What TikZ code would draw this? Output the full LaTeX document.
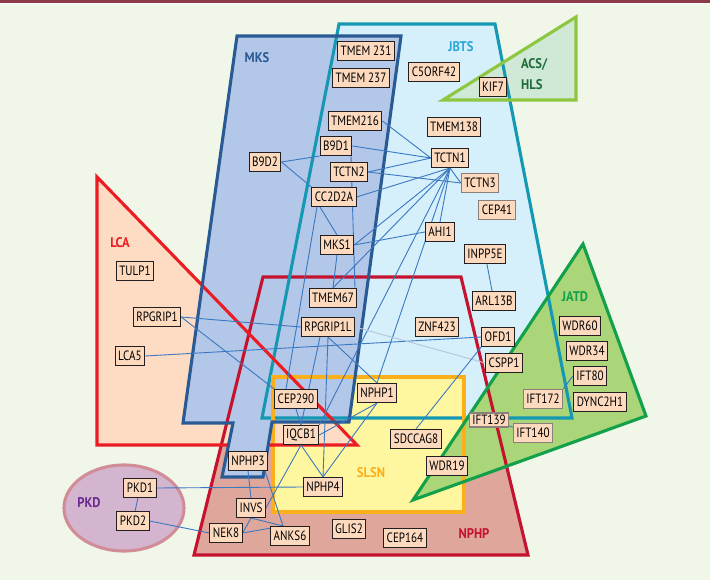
\documentclass[tikz,border=0pt]{standalone}
\usepackage{fontspec}
\newfontfamily\boxfont[FakeStretch=0.82]{PT Sans}
\newfontfamily\labfont[FakeStretch=0.9]{PT Sans}
\pgfdeclarelayer{regions}
\pgfdeclarelayer{links}
\pgfsetlayers{regions,links,main}
\definecolor{bgc}{HTML}{F0F7E9}
\definecolor{topbar}{HTML}{8C3A48}
\definecolor{nphpfill}{HTML}{DFA69C}
\definecolor{nphpline}{HTML}{C4122F}
\definecolor{jbtsfill}{HTML}{D5EFFB}
\definecolor{jbtsline}{HTML}{1599B3}
\definecolor{jbtstext}{HTML}{2EA6D6}
\definecolor{slsnfill}{HTML}{FFF6A0}
\definecolor{slsnline}{HTML}{FBB01B}
\definecolor{lcafill}{HTML}{FDDCC3}
\definecolor{lcaline}{HTML}{EC1C24}
\definecolor{mksfill}{HTML}{B3C7E8}
\definecolor{mksline}{HTML}{2A5A93}
\definecolor{jatdfill}{HTML}{AAD578}
\definecolor{jatdline}{HTML}{12A14A}
\definecolor{acsfill}{HTML}{CFE9D6}
\definecolor{acsline}{HTML}{8DC63F}
\definecolor{acstext}{HTML}{1E6B3A}
\definecolor{pkdfill}{HTML}{D4B5CF}
\definecolor{pkdline}{HTML}{D08C97}
\definecolor{pkdtext}{HTML}{6A2A90}
\definecolor{boxfill}{HTML}{FDDABE}
\definecolor{boxline}{HTML}{231F20}
\definecolor{boxgray}{HTML}{8A7F7A}
\definecolor{linkblue}{HTML}{3B78C2}
\definecolor{linkfaint}{HTML}{B5C6DA}
\begin{document}
\begin{tikzpicture}[x=1pt,y=-1pt,
  gene/.style={draw=boxline, fill=boxfill, line width=1.1pt, inner xsep=3pt, inner ysep=0pt,
    minimum height=19pt, text=black, font={\boxfont\fontsize{13.5}{14}\selectfont}},
  genegray/.style={gene, draw=boxgray},
  link/.style={draw=linkblue, line width=0.9pt},
  faintlink/.style={draw=linkfaint, line width=0.9pt},
  region/.style={line width=3.1pt, line join=miter},
  rlabel/.style={inner sep=0pt, font={\labfont\bfseries\fontsize{14}{16}\selectfont}}
]
\useasboundingbox (0,0) rectangle (710,580);
\begin{pgfonlayer}{regions}
\fill[bgc] (0,0) rectangle (710,580);
\fill[topbar] (0,0) rectangle (710,3);
\fill[white] (0,3) rectangle (710,4.5);
% fills
\fill[nphpfill] (263,277) -- (461,277) -- (528,555) -- (194,555) -- cycle;
\fill[jbtsfill] (339,24) -- (495,24) -- (572,418) -- (262,418) -- cycle;
\fill[slsnfill] (273,377) rectangle (464,512);
\fill[lcafill] (97,177) -- (357,445) -- (97,445) -- cycle;
\fill[mksfill] (237,36) -- (401,36) -- (349,422) -- (272,422) -- (263,477) -- (222,477) -- (233,423) -- (183,423) -- cycle;
\fill[jatdfill] (583,244) -- (646,416) -- (413,500) -- cycle;
\fill[acsfill] (576,17) -- (576,100) -- (443,100) -- cycle;
\fill[pkdfill] (124,508) ellipse [x radius=60, y radius=43];
% outlines
\draw[region, nphpline] (263,277) -- (461,277) -- (528,555) -- (194,555) -- cycle;
\draw[region, jbtsline] (339,24) -- (495,24) -- (572,418) -- (262,418) -- cycle;
\draw[region, slsnline] (273,377) rectangle (464,512);
\draw[region, lcaline] (97,177) -- (357,445) -- (97,445) -- cycle;
% the MKS tab lies over the bottom edge of LCA
\fill[mksfill] (273.5,421) -- (264.5,475.5) -- (223.8,475.5) -- (234.5,421) -- cycle;
\draw[region, mksline] (237,36) -- (401,36) -- (349,422) -- (272,422) -- (263,477) -- (222,477) -- (233,423) -- (183,423) -- cycle;
\draw[region, jatdline] (583,244) -- (646,416) -- (413,500) -- cycle;
\draw[region, acsline] (576,17) -- (576,100) -- (443,100) -- cycle;
\draw[region, pkdline] (124,508) ellipse [x radius=60, y radius=43];
\end{pgfonlayer}

% region labels
\node[rlabel, text=mksline] (lmks) at (257,58) {MKS};
\node[rlabel, text=jbtstext] (ljbts) at (461,47) {JBTS};
\node[rlabel, text=acstext, anchor=west] (lacs) at (521,64) {ACS/};
\node[rlabel, text=acstext, anchor=west] (lhls) at (521,85) {HLS};
\node[rlabel, text=lcaline] (llca) at (120,243) {LCA};
\node[rlabel, text=jatdline] (ljatd) at (575,297) {JATD};
\node[rlabel, text=slsnline] (lslsn) at (371,473) {SLSN};
\node[rlabel, text=nphpline] (lnphp) at (474,534) {NPHP};
\node[rlabel, text=pkdtext] (lpkd) at (89,503) {PKD};

% genes
\node[gene] (tmem231) at (366,51) {TMEM 231};
\node[gene] (tmem237) at (361,78) {TMEM 237};
\node[gene] (c5orf42) at (434,72) {C5ORF42};
\node[gene] (kif7) at (493,87) {KIF7};
\node[gene] (tmem216) at (355,121) {TMEM216};
\node[gene] (tmem138) at (454,127) {TMEM138};
\node[gene] (b9d1) at (336,146) {B9D1};
\node[gene] (b9d2) at (265,162) {B9D2};
\node[gene] (tctn2) at (349,172) {TCTN2};
\node[gene] (tctn1) at (450,158) {TCTN1};
\node[genegray] (tctn3) at (480,183) {TCTN3};
\node[gene] (cc2d2a) at (334,197) {CC2D2A};
\node[genegray] (cep41) at (497,210) {CEP41};
\node[gene] (ahi1) at (440,232) {AHI1};
\node[gene] (mks1) at (337,245) {MKS1};
\node[gene] (inpp5e) at (485,254) {INPP5E};
\node[gene] (tmem67) at (333,298) {TMEM67};
\node[gene] (arl13b) at (494,301) {ARL13B};
\node[gene] (rpgrip1l) at (328,327) {RPGRIP1L};
\node[gene] (znf423) at (437,327) {ZNF423};
\node[gene] (ofd1) at (498,337) {OFD1};
\node[gene] (cspp1) at (504,363) {CSPP1};
\node[gene] (nphp1) at (377,393) {NPHP1};
\node[gene] (tulp1) at (135,271) {TULP1};
\node[gene] (rpgrip1) at (157,317) {RPGRIP1};
\node[gene] (lca5) at (130,356) {LCA5};
\node[gene] (wdr60) at (580,326) {WDR60};
\node[gene] (wdr34) at (587,351) {WDR34};
\node[gene] (ift80) at (590,376) {IFT80};
\node[genegray] (ift172) at (543,399) {IFT172};
\node[gene] (dync2h1) at (600,402) {DYNC2H1};
\node[genegray, minimum height=14pt] (ift139) at (489,420) {IFT139};
\node[genegray] (ift140) at (533,433) {IFT140};
\node[gene] (cep290) at (296,399) {CEP290};
\node[gene] (iqcb1) at (301,435) {IQCB1};
\node[gene] (sdccag8) at (416,439) {SDCCAG8};
\node[gene] (wdr19) at (447,466) {WDR19};
\node[gene] (nphp4) at (323,487) {NPHP4};
\node[gene] (anks6) at (290,536) {ANKS6};
\node[gene] (glis2) at (349,529) {GLIS2};
\node[gene] (cep164) at (405,538) {CEP164};
\node[gene] (nphp3) at (248,461) {NPHP3};
\node[gene] (pkd1) at (140,488) {PKD1};
\node[gene] (pkd2) at (133,521) {PKD2};
\node[gene] (invs) at (251,508) {INVS};
\node[gene] (nek8) at (226,533) {NEK8};

% connectors, behind the boxes
\begin{pgfonlayer}{links}
\draw[link] (b9d2.east) -- (b9d1.south west);
\draw[link] (b9d2.east) -- (cc2d2a.north west);
\draw[link] (b9d1.east) -- (tctn1.west);
\draw[link] (tmem216.east) -- (tctn1.west);
\draw[link] (tctn2.east) -- (tctn1.west);
\draw[link] (tctn2.east) -- (tctn3.west);
\draw[link] (cc2d2a.east) -- (tctn1.south);
\draw[link] (tctn1.south) -- (tctn3.west);
\draw[link] (tctn1.south) -- (mks1.east);
\draw[link] (tctn1.south) -- (tmem67.north);
\draw[link] (tctn1.south) -- (iqcb1.north east);
\draw[link] (tctn1.south) -- (nphp1.north);
\draw[link] (tctn1.south) -- (ahi1.north);
\draw[link] (mks1.east) -- (ahi1.west);
\draw[link] ([xshift=-14pt]cc2d2a.south) -- (mks1.north);
\draw[link] ([xshift=-17pt]cc2d2a.south) -- ([xshift=-10pt]cep290.north);
\draw[link] ([xshift=15pt]b9d1.south) -- ([xshift=22pt]tmem67.north);
\draw[link] (mks1.south) -- (tmem67.north);
\draw[link] (rpgrip1.east) -- (rpgrip1l.west);
\draw[link] (rpgrip1.east) -- (cep290.north west);
\draw[link] (lca5.east) -- (ofd1.west);
\draw[faintlink] (rpgrip1l.east) -- (cspp1.west);
\draw[link] (rpgrip1l.south) -- (nphp1.north);
\draw[link] (rpgrip1l.south) -- (nphp4.north);
\draw[link] ([xshift=-8pt]rpgrip1l.south) -- (iqcb1.north);
\draw[link] (cep290.south) -- (iqcb1.north);
\draw[link] (iqcb1.east) -- (nphp1.south);
\draw[link] (iqcb1.south) -- (nphp4.north);
\draw[link] (nphp4.north) -- (nphp1.south);
\draw[link] (iqcb1.south) -- (invs.east);
\draw[link] (pkd1.east) -- (nphp4.west);
\draw[link] (pkd1) -- (pkd2);
\draw[link] (pkd2.east) -- (nek8.west);
\draw[link] (nphp3.south) -- (invs.north);
\draw[link] ([xshift=17pt]nphp3.south) -- ([xshift=-7pt]anks6.north);
\draw[link] (invs.south) -- (nek8.east);
\draw[link] (invs.south) -- ([xshift=-7pt]anks6.north);
\draw[link] (nek8.east) -- ([xshift=-7pt]anks6.north);
\draw[link] (sdccag8.north) -- (ofd1.south west);
\draw[link] (inpp5e) -- (arl13b);
\draw[link] (ift80.west) -- (ift172.north east);
\draw[link] (ift139) -- (ift140);
\end{pgfonlayer}
\end{tikzpicture}
\end{document}
